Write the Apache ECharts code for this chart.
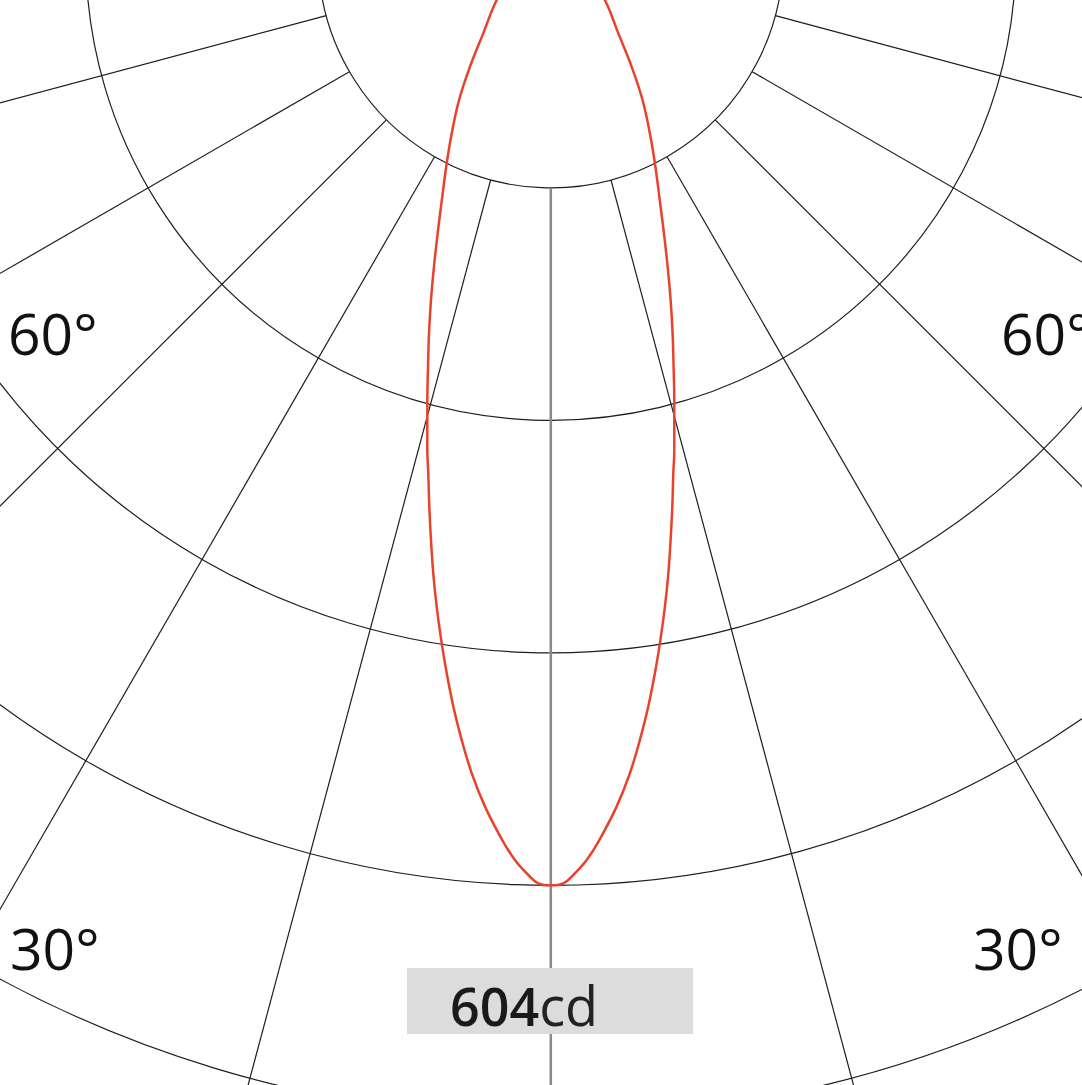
<!DOCTYPE html>
<html><head><meta charset="utf-8">
<script src="https://cdn.jsdelivr.net/npm/echarts@6/dist/echarts.min.js"></script>
<style>html,body{margin:0;padding:0;background:#fff;overflow:hidden}#c{width:1082px;height:1085px}</style>
</head><body><div id="c"></div>
<script>
// Beam angles (degrees from nadir) and luminous intensity (cd); beam is symmetric
const angles    = [0, 0.77, 1.5, 2.27, 3.14, 4.42, 5.52, 6.48, 7.39, 8.25, 9.01, 9.94, 10.77, 11.58, 12.43, 13.31, 14.02,
                   15.52, 16.62, 17.86, 19.17, 20.57, 22.15, 24.0, 26.6, 29.1, 32.4, 36.0, 40.9, 50.5, 60, 70, 80, 90];
const intensity = [604, 602.7, 596.4, 588.0, 575.4, 554.5, 533.7, 512.8, 492.0, 471.1, 452.4, 429.4, 408.5, 387.6, 366.6, 345.6, 331.1,
                   299.7, 278.8, 257.9, 237.0, 216.0, 194.9, 174.0, 151.0, 132.3, 111.2, 89.3, 67.0, 45.5, 30, 16, 7, 0];
const ringStep = 151;      // cd per ring
const ringMax = 906;       // outer radius value
const spokeStep = 15;      // degrees between radial lines
const peakValue = '604';
const peakUnit = 'cd';
const angleLabels = ['60°', '60°', '30°', '30°'];

const curve = [];
for (let i = angles.length - 1; i > 0; i--) curve.push([intensity[i], -angles[i]]);
for (let i = 0; i < angles.length; i++) curve.push([intensity[i], angles[i]]);

const CX = 550.8, CY = -44.6, RING_PX = 232.5;
const OUTER = RING_PX * ringMax / ringStep;

const spokeColors = [];
for (let a = 0; a < 360; a += spokeStep) spokeColors.push(a === 0 ? 'rgba(0,0,0,0)' : '#1e1e1e');

const off = {show: false};
const chart = echarts.init(document.getElementById('c'), null, {renderer: 'svg'});
const labelFont = '57px "Open Sans", "Noto Sans", sans-serif';
function txt(t, x, y) {
  return {type: 'text', z: 100, style: {text: t, x: x, y: y, fill: '#111', font: labelFont,
    align: 'left', textAlign: 'left', verticalAlign: 'middle', textVerticalAlign: 'middle'}};
}
chart.setOption({
  animation: false,
  backgroundColor: '#fff',
  polar: [
    {center: [CX, CY], radius: [0, OUTER]},
    {center: [CX, CY], radius: [RING_PX, OUTER]}
  ],
  angleAxis: [
    {polarIndex: 0, type: 'value', min: -180, max: 180, interval: spokeStep, startAngle: 90,
     axisLine: off, axisTick: off, axisLabel: off, splitLine: off},
    {polarIndex: 1, type: 'value', min: 0, max: 360, interval: spokeStep, startAngle: 270,
     axisLine: off, axisTick: off, axisLabel: off,
     splitLine: {show: true, lineStyle: {color: spokeColors, width: 1.2}}}
  ],
  radiusAxis: [
    {polarIndex: 0, type: 'value', min: 0, max: ringMax, interval: ringStep,
     axisLine: off, axisTick: off, axisLabel: off,
     splitLine: {show: true, lineStyle: {color: '#1e1e1e', width: 1.2}}},
    {polarIndex: 1, type: 'value', min: 0, max: ringMax, interval: ringStep,
     axisLine: off, axisTick: off, axisLabel: off, splitLine: off}
  ],
  series: [
    {type: 'line', coordinateSystem: 'polar', polarIndex: 0, silent: true,
     data: [[ringStep, 0], [ringMax, 0]], symbol: 'none',
     lineStyle: {color: '#888888', width: 2.5}, z: 2},
    {type: 'line', coordinateSystem: 'polar', polarIndex: 0, silent: true,
     data: curve, symbol: 'none', smooth: 0.4, clip: false,
     lineStyle: {color: '#e8412c', width: 2.5}, z: 3}
  ],
  graphic: [
    {type: 'rect', z: 90, shape: {x: 407, y: 968, width: 286, height: 66}, style: {fill: '#dcdcdc'}},
    {type: 'text', z: 100, style: {
      text: '{a|' + peakValue + '}{b|' + peakUnit + '}', x: 450, y: 1005,
      align: 'left', textAlign: 'left', verticalAlign: 'middle', textVerticalAlign: 'middle',
      rich: {
        a: {font: '600 52px "Open Sans", "Noto Sans", sans-serif', fill: '#1a1a1a'},
        b: {font: '400 54px "Open Sans", "Noto Sans", sans-serif', fill: '#222'}
      }}},
    txt(angleLabels[0], 8, 333),
    txt(angleLabels[1], 1001, 333),
    txt(angleLabels[2], 10, 948),
    txt(angleLabels[3], 973, 948)
  ]
});
</script></body></html>
